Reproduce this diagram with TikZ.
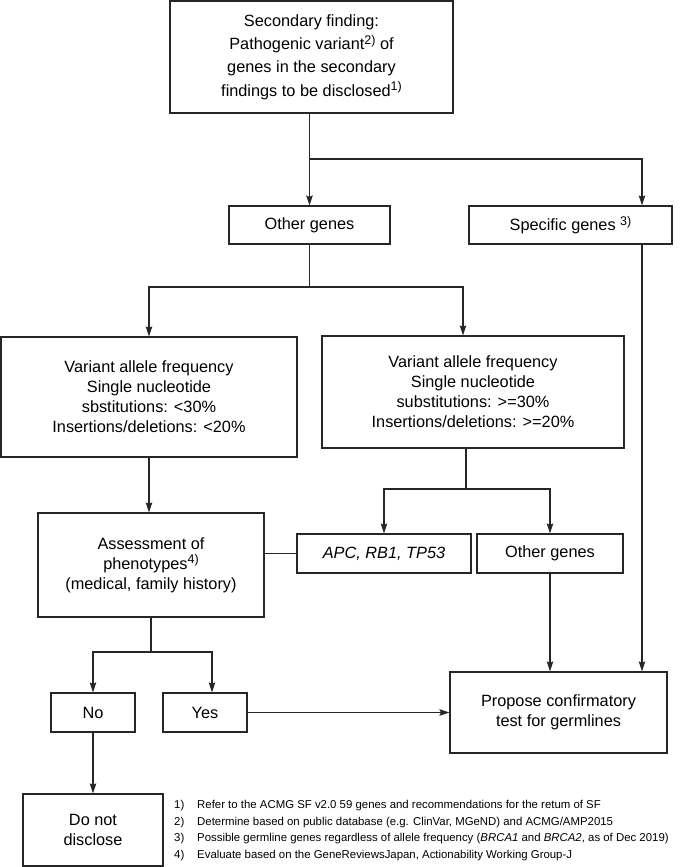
\documentclass[tikz,border=0pt]{standalone}
\usepackage{fontspec}
\setmainfont{Liberation Sans}
\usetikzlibrary{arrows.meta,calc}
\newcommand\supmark[1]{\raisebox{0.62ex}{\fontsize{12.5}{12}\selectfont #1}}
\begin{document}
\begin{tikzpicture}[x=1pt,y=-1pt,
  box/.style={draw=black!85, line width=1.2pt, align=center, inner sep=0pt, font=\fontsize{16.3}{20}\selectfont},
  arr/.style={-{Stealth[length=10pt,width=6.5pt,inset=1.5pt]}},
  conn/.style={line width=1.1pt, draw=black!85},
  fn/.style={anchor=west, inner sep=0pt, font=\fontsize{11.4}{13}\selectfont}]
\useasboundingbox (0,0) rectangle (685,867);

% boxes
\node[box, minimum width=283pt, minimum height=112pt, font=\fontsize{16.3}{23.3}\selectfont] (top) at (311.5,57)
  {Secondary finding:\\Pathogenic variant\supmark{2)} of\\genes in the secondary\\findings to be disclosed\supmark{1)}};
\node[box, minimum width=161pt, minimum height=38pt] (og1) at (309.5,225) {Other genes};
\node[box, minimum width=203pt, minimum height=38pt] (spec) at (570.5,225) {Specific genes \supmark{3)}};
\node[box, minimum width=296pt, minimum height=120pt] (vl) at (149,397)
  {Variant allele frequency\\Single nucleotide\\sbstitutions: <30\%\\Insertions/deletions: <20\%};
\node[box, minimum width=302pt, minimum height=112pt] (vr) at (473,392)
  {Variant allele frequency\\Single nucleotide\\substitutions: >=30\%\\Insertions/deletions: >=20\%};
\node[box, minimum width=226pt, minimum height=104pt] (assess) at (151,565)
  {Assessment of\\phenotypes\supmark{4)}\\(medical, family history)};
\node[box, minimum width=174pt, minimum height=39pt] (apc) at (384,553.5) {\itshape APC, RB1, TP53};
\node[box, minimum width=146pt, minimum height=39pt] (og2) at (550,553.5) {Other genes};
\node[box, minimum width=84pt, minimum height=39pt] (no) at (93,712.5) {No};
\node[box, minimum width=84pt, minimum height=39pt] (yes) at (205,712.5) {Yes};
\node[box, minimum width=217pt, minimum height=81pt] (prop) at (558.5,712.5) {Propose confirmatory\\test for germlines};
\node[box, minimum width=140pt, minimum height=72pt] (dnd) at (93,830) {Do not\\disclose};

% junction coordinates
\coordinate (j1) at (309.5,159);
\coordinate (sx) at (642,159);
\coordinate (j2) at (309.5,287);
\coordinate (vrin) at (463,287);
\coordinate (j3) at (466,489);
\coordinate (j4) at (151,652);
\coordinate (yx) at (212,652);

% connectors
\draw[conn] (top.south -| j1) -- (j1);
\draw[conn,arr] (j1) -- (og1.north);
\draw[conn,arr] (j1) -- (sx) -- (sx |- spec.north);
\draw[conn,arr] (spec.south -| sx) -- (prop.north -| sx);
\draw[conn] (og1.south) -- (j2);
\draw[conn,arr] (j2) -| (vl.north);
\draw[conn,arr] (j2) -- (vrin) -- (vrin |- vr.north);
\draw[conn,arr] (vl.south) -- (vl.south |- assess.north);
\draw[conn] (j3 |- vr.south) -- (j3);
\draw[conn,arr] (j3) -| (apc.north);
\draw[conn,arr] (j3) -| (og2.north);
\draw[conn] (assess.east |- apc.west) -- (apc.west);
\draw[conn,arr] (og2.south) -- (og2.south |- prop.north);
\draw[conn] (assess.south) -- (j4);
\draw[conn,arr] (j4) -| (no.north);
\draw[conn,arr] (j4) -- (yx) -- (yx |- yes.north);
\draw[conn,arr] (no.south) -- (dnd.north);
\draw[conn,arr] (yes.east) -- (prop.west);

% footnotes
\node[fn] (n1) at (174,806) {1)};
\node[fn] (t1) at (197,806) {Refer to the ACMG SF v2.0 59 genes and recommendations for the retum of SF};
\node[fn] (n2) at (174,822.5) {2)};
\node[fn] (t2) at (197,822.5) {Determine based on public database (e.g. ClinVar, MGeND) and ACMG/AMP2015};
\node[fn] (n3) at (174,839) {3)};
\node[fn] (t3) at (197,839) {Possible germline genes regardless of allele frequency (\textit{BRCA1} and \textit{BRCA2}, as of Dec 2019)};
\node[fn] (n4) at (174,855.5) {4)};
\node[fn] (t4) at (197,855.5) {Evaluate based on the GeneReviewsJapan, Actionability Working Group-J};
\end{tikzpicture}
\end{document}
